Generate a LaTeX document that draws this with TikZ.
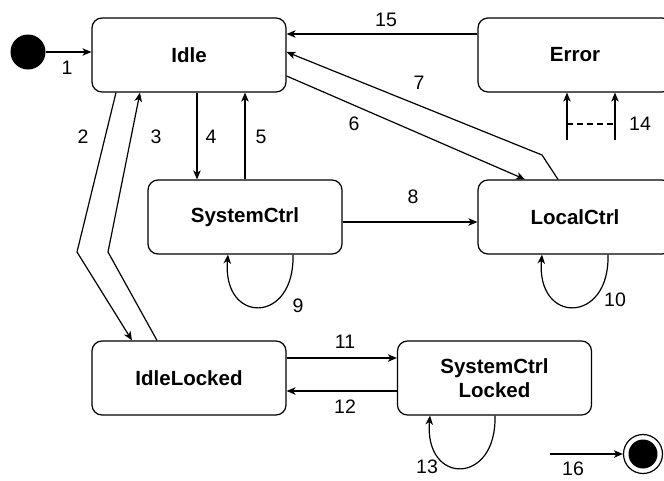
\documentclass[tikz,border=0pt]{standalone}
\usepackage{fontspec}
\setmainfont{Liberation Sans}
\usetikzlibrary{arrows.meta}
\begin{document}
\begin{tikzpicture}[x=1pt,y=-1pt,
  stbox/.style={draw,line width=1.2pt,rounded corners=10pt,minimum width=194pt,minimum height=74pt,
    font=\bfseries\fontsize{20.5}{23.5}\selectfont,align=center,inner sep=0pt},
  lbl/.style={font=\fontsize{19.5}{22}\selectfont,inner sep=0pt},
  arr/.style={line width=1.2pt,-{Stealth[length=9pt,width=7.5pt,inset=2.5pt]}},
  ln/.style={line width=1.2pt}]
\useasboundingbox (0,0) rectangle (664,480);
\begin{scope}
\clip (0,0) rectangle (664,480);
% states
\node[stbox] (idle) at (189,55) {Idle};
\node[stbox] (err) at (575,55) {Error};
\node[stbox] (sc) at (245,217) {SystemCtrl};
\node[stbox] (lc) at (575,217) {LocalCtrl};
\node[stbox] (il) at (189,378) {IdleLocked};
\node[stbox] (scl) at (494.5,378) {SystemCtrl\\Locked};
\node[circle,fill=black,minimum size=35pt,inner sep=0pt] (init) at (28,52) {};
\node[circle,draw,line width=1.2pt,minimum size=39pt,inner sep=0pt] (fin) at (643,454) {};
\node[circle,fill=black,minimum size=29pt,inner sep=0pt] (fincore) at (fin.center) {};
% bend points
\coordinate (b7) at (542,155);
\coordinate (b2) at (77,252);
\coordinate (b3) at (108,252);
\coordinate (s14a) at (567,140);
\coordinate (s14b) at (615,140);
\coordinate (s16) at (550,454);
% connectors
\draw[arr] (init) -- (init -| idle.west);
\draw[arr] ([yshift=21pt]err.west) -- ([yshift=21pt]idle.east);
\draw[arr] ([xshift=-17pt]lc.north) -- (b7) -- ([yshift=3pt]idle.east);
\draw[arr] ([yshift=-21pt]idle.east) -- ([xshift=-50pt]lc.north);
\draw[arr] ([xshift=8pt]idle.south) -- ([xshift=8pt]idle.south |- sc.north);
\draw[arr] (sc.north) -- (sc.north |- idle.south);
\draw[arr] ([xshift=-73pt]idle.south) -- (b2) -- ([xshift=-57pt]il.north);
\draw[arr] ([xshift=-32pt]il.north) -- (b3) -- ([xshift=-49pt]idle.south);
\draw[arr] ([yshift=-5pt]sc.east) -- ([yshift=-5pt]sc.east -| lc.west);
\draw[arr] ([xshift=48pt]sc.south) .. controls +(2,70) and +(-6,70) .. ([xshift=-17pt]sc.south);
\draw[arr] ([xshift=33pt]lc.south) .. controls +(2,70) and +(-6,70) .. ([xshift=-33pt]lc.south);
\draw[arr] ([yshift=20pt]il.east) -- ([yshift=20pt]il.east -| scl.west);
\draw[arr] ([yshift=-13pt]scl.west) -- ([yshift=-13pt]scl.west -| il.east);
\draw[arr] ([xshift=0.5pt]scl.south) .. controls +(2,70) and +(-6,70) .. ([xshift=-64.5pt]scl.south);
\draw[arr] (s14a) -- (s14a |- err.south);
\draw[arr] (s14b) -- (s14b |- err.south);
\draw[ln,dash pattern=on 6pt off 4pt] ([yshift=16pt]s14a) -- ([yshift=16pt]s14b);
\draw[arr] (s16) -- (fin);
% labels
\node[lbl] (l1) at (67,68) {1};
\node[lbl] (l2) at (83,137) {2};
\node[lbl] (l3) at (156,137) {3};
\node[lbl] (l4) at (211,137) {4};
\node[lbl] (l5) at (261,137) {5};
\node[lbl] (l6) at (354,124) {6};
\node[lbl] (l7) at (419,83) {7};
\node[lbl] (l8) at (413,197) {8};
\node[lbl] (l9) at (298,306) {9};
\node[lbl] (l10) at (615,300) {10};
\node[lbl] (l11) at (345,342) {11};
\node[lbl] (l12) at (345,407) {12};
\node[lbl] (l13) at (427,467) {13};
\node[lbl] (l14) at (640,124) {14};
\node[lbl] (l15) at (386,20) {15};
\node[lbl] (l16) at (573,469) {16};
\end{scope}
\end{tikzpicture}
\end{document}
